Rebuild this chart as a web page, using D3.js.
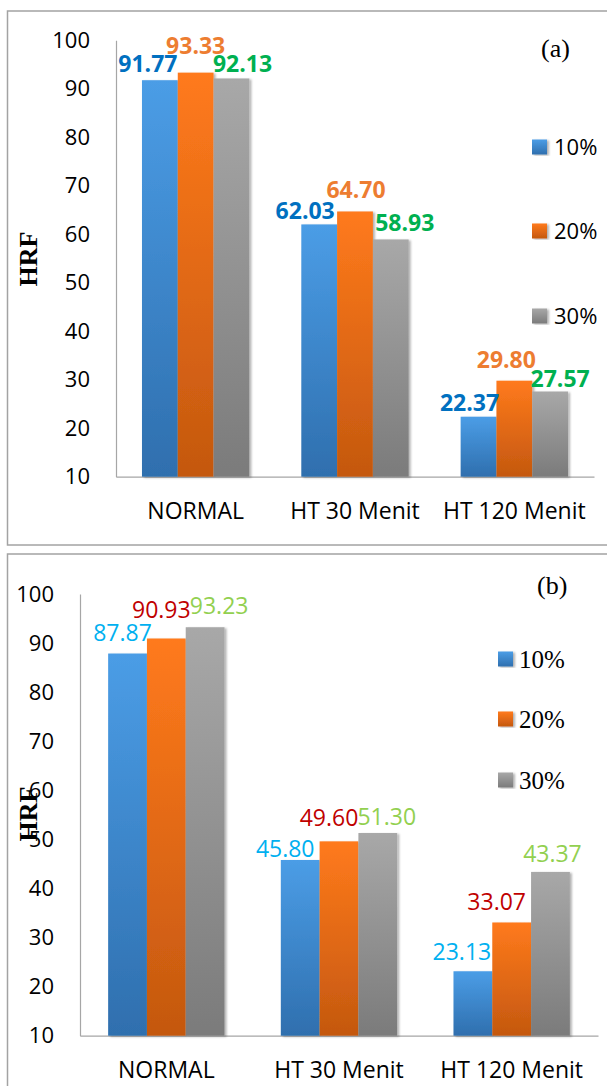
<!DOCTYPE html>
<html>
<head>
<meta charset="utf-8">
<script src="https://cdn.jsdelivr.net/npm/d3@7"></script>
<style>
  body { margin: 0; background: #fff; }
  svg { display: block; }
</style>
</head>
<body>
<div id="chart"></div>
<script>
// data
const categories = ["NORMAL", "HT 30 Menit", "HT 120 Menit"];
const seriesNames = ["10%", "20%", "30%"];
const yTicks = [10, 20, 30, 40, 50, 60, 70, 80, 90, 100];

const a10 = [91.77, 62.03, 22.37];
const a20 = [93.33, 64.70, 29.80];
const a30 = [92.13, 58.93, 27.57];

const b10 = [87.87, 45.80, 23.13];
const b20 = [90.93, 49.60, 33.07];
const b30 = [93.23, 51.30, 43.37];

// label nudges [dx, gap above bar] per series per category (hand placed in the original)
const nudgeA = [[[-12, 8], [-14, 5], [-9, 6]], [[0, 19], [1, 13], [-8, 13]], [[11, 6], [14, 8], [10, 5]]];
const nudgeB = [[[-5, 13], [-15, 3], [-11, 11]], [[-5, 21], [-10, 15], [-15, 12]], [[14, 13], [9, 8], [2, 10]]];

const barColors = [["#4b9de6", "#2f6fae"], ["#ff7a1c", "#c4580f"], ["#a8a8a8", "#7b7b7b"]];

const svg = d3.select("#chart").append("svg")
  .attr("width", 607).attr("height", 1086);

const defs = svg.append("defs");
barColors.forEach((c, i) => {
  const g = defs.append("linearGradient").attr("id", "grad" + i)
    .attr("x1", 0).attr("y1", 0).attr("x2", 0).attr("y2", 1);
  g.append("stop").attr("offset", "0%").attr("stop-color", c[0]);
  g.append("stop").attr("offset", "100%").attr("stop-color", c[1]);
});
const shadow = defs.append("filter").attr("id", "shadow")
  .attr("x", "-20%").attr("y", "-5%").attr("width", "150%").attr("height", "115%");
shadow.append("feDropShadow").attr("dx", 2).attr("dy", 1)
  .attr("stdDeviation", 1.2).attr("flood-color", "#000").attr("flood-opacity", 0.3);

const sans = "'Open Sans', 'DejaVu Sans', sans-serif";
const serif = "'Liberation Serif', 'Times New Roman', serif";

function drawPanel(cfg) {
  const g = svg.append("g");

  // outer frame
  g.append("rect")
    .attr("x", cfg.box.x).attr("y", cfg.box.y)
    .attr("width", 640).attr("height", cfg.box.h)
    .attr("fill", "none").attr("stroke", "#a3a3a3").attr("stroke-width", 1.5);

  const x = d3.scaleBand().domain(categories)
    .range([cfg.left, cfg.right]).paddingInner(0.326).paddingOuter(0.163);
  const xs = d3.scaleBand().domain(seriesNames).range([0, x.bandwidth()]);
  const y = d3.scaleLinear().domain([10, 100]).range([cfg.bottom, cfg.top]);

  // y axis
  const yAxis = g.append("g")
    .attr("transform", `translate(${cfg.left},0)`)
    .call(d3.axisLeft(y).tickValues(yTicks).tickSize(0).tickPadding(26));
  yAxis.select(".domain").attr("stroke", "#a6a6a6").attr("stroke-width", 1.2);
  yAxis.selectAll("text").attr("font-family", sans).attr("font-size", 22).attr("fill", "#000");

  // x axis
  const xAxis = g.append("g")
    .attr("transform", `translate(0,${cfg.bottom})`)
    .call(d3.axisBottom(x).tickSize(0).tickPadding(0));
  xAxis.select(".domain").attr("stroke", "#a6a6a6").attr("stroke-width", 1.2);
  xAxis.selectAll("text").attr("font-family", sans).attr("font-size", 23).attr("fill", "#000")
    .attr("dy", null).attr("y", cfg.xLabelY - cfg.bottom);

  // bars
  cfg.series.forEach((vals, si) => {
    g.append("g").selectAll("rect")
      .data(vals)
      .join("rect")
      .attr("x", (d, i) => x(categories[i]) + xs(seriesNames[si]))
      .attr("y", d => y(d))
      .attr("width", xs.bandwidth())
      .attr("height", d => cfg.bottom - y(d))
      .attr("fill", `url(#grad${si})`)
      .attr("filter", "url(#shadow)");
  });

  // value labels
  cfg.series.forEach((vals, si) => {
    g.append("g").selectAll("text")
      .data(vals)
      .join("text")
      .attr("x", (d, i) => x(categories[i]) + xs(seriesNames[si]) + xs.bandwidth() / 2 + cfg.nudge[si][i][0])
      .attr("y", (d, i) => y(d) - cfg.nudge[si][i][1])
      .attr("text-anchor", "middle")
      .attr("font-family", sans)
      .attr("font-size", cfg.labelSize)
      .attr("font-weight", cfg.labelWeight)
      .attr("fill", cfg.labelColors[si])
      .text(d => d3.format(".2f")(d));
  });

  // legend
  const leg = g.append("g");
  seriesNames.forEach((s, si) => {
    leg.append("rect")
      .attr("x", cfg.legend.x).attr("y", cfg.legend.ys[si] - 7.5)
      .attr("width", 15).attr("height", 15)
      .attr("fill", `url(#grad${si})`)
      .attr("filter", "url(#shadow)");
    leg.append("text")
      .attr("x", cfg.legend.x + cfg.legend.gap).attr("y", cfg.legend.ys[si])
      .attr("dy", "0.36em")
      .attr("font-family", cfg.legend.font).attr("font-size", cfg.legend.size)
      .attr("fill", "#000")
      .text(s);
  });

  // panel tag
  g.append("text")
    .attr("x", cfg.tag.x).attr("y", cfg.tag.y).attr("dy", "0.35em")
    .attr("font-family", serif).attr("font-size", 26).attr("fill", "#000")
    .text(cfg.tag.text);

  // y title
  g.append("text")
    .attr("transform", `translate(${cfg.title.x},${cfg.title.y}) rotate(-90)`)
    .attr("text-anchor", "middle")
    .attr("font-family", serif).attr("font-size", 26).attr("font-weight", "bold")
    .attr("fill", "#000")
    .text("HRF");
}

drawPanel({
  box: {x: 7.5, y: 11, h: 534},
  left: 116, right: 594, top: 40.3, bottom: 476.7,
  xLabelY: 519,
  series: [a10, a20, a30],
  nudge: nudgeA,
  labelSize: 23, labelWeight: "bold",
  labelColors: ["#0070c0", "#ed7d31", "#00b050"],
  legend: {x: 532, ys: [147, 231, 316], gap: 22, font: sans, size: 22},
  tag: {x: 541, y: 48, text: "(a)"},
  title: {x: 37, y: 259}
});

drawPanel({
  box: {x: 7.5, y: 554, h: 560},
  left: 80, right: 598, top: 594, bottom: 1035.7,
  xLabelY: 1078,
  series: [b10, b20, b30],
  nudge: nudgeB,
  labelSize: 23, labelWeight: "normal",
  labelColors: ["#00b0f0", "#c00000", "#92d050"],
  legend: {x: 498, ys: [659, 719, 780], gap: 21, font: serif, size: 25},
  tag: {x: 537, y: 585, text: "(b)"},
  title: {x: 37, y: 814}
});
</script>
</body>
</html>
